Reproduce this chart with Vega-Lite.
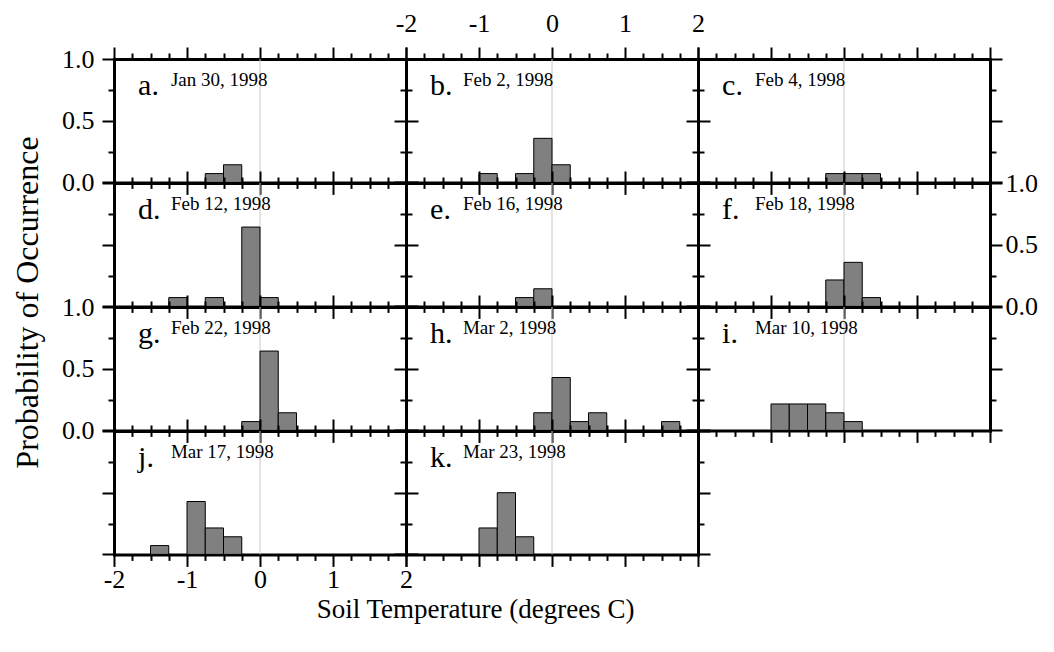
{
  "$schema": "https://vega.github.io/schema/vega-lite/v6.json",
  "padding": {"left": 10, "top": 10, "right": 5, "bottom": 5},
  "background": "white",
  "config": {
    "view": {"stroke": null},
    "style": {
      "guide-label": {"font": "Liberation Serif", "fontSize": 26, "fill": "black"},
      "guide-title": {"font": "Liberation Serif", "fontSize": 28, "fontWeight": "normal", "fill": "black"}
    },
    "axis": {
      "grid": false,
      "domainColor": "black",
      "domainWidth": 3,
      "domainCap": "square",
      "tickColor": "black",
      "tickWidth": 2,
      "labelFont": "Liberation Serif",
      "labelFontSize": 26,
      "labelColor": "black",
      "titleFont": "Liberation Serif",
      "titleFontSize": 28,
      "titleFontWeight": "normal",
      "titleColor": "black",
      "labelOverlap": false,
      "labelFlush": false,
      "labelBound": false
    }
  },
  "datasets": {
    "bins": [
      {"panel": "a", "lo": -0.75, "hi": -0.5, "p": 0.0714},
      {"panel": "a", "lo": -0.5, "hi": -0.25, "p": 0.1429},
      {"panel": "b", "lo": -1.0, "hi": -0.75, "p": 0.0714},
      {"panel": "b", "lo": -0.5, "hi": -0.25, "p": 0.0714},
      {"panel": "b", "lo": -0.25, "hi": 0.0, "p": 0.3571},
      {"panel": "b", "lo": 0.0, "hi": 0.25, "p": 0.1429},
      {"panel": "c", "lo": -0.25, "hi": 0.0, "p": 0.0714},
      {"panel": "c", "lo": 0.0, "hi": 0.25, "p": 0.0714},
      {"panel": "c", "lo": 0.25, "hi": 0.5, "p": 0.0714},
      {"panel": "d", "lo": -1.25, "hi": -1.0, "p": 0.0714},
      {"panel": "d", "lo": -0.75, "hi": -0.5, "p": 0.0714},
      {"panel": "d", "lo": -0.25, "hi": 0.0, "p": 0.6429},
      {"panel": "d", "lo": 0.0, "hi": 0.25, "p": 0.0714},
      {"panel": "e", "lo": -0.5, "hi": -0.25, "p": 0.0714},
      {"panel": "e", "lo": -0.25, "hi": 0.0, "p": 0.1429},
      {"panel": "f", "lo": -0.25, "hi": 0.0, "p": 0.2143},
      {"panel": "f", "lo": 0.0, "hi": 0.25, "p": 0.3571},
      {"panel": "f", "lo": 0.25, "hi": 0.5, "p": 0.0714},
      {"panel": "g", "lo": -0.25, "hi": 0.0, "p": 0.0714},
      {"panel": "g", "lo": 0.0, "hi": 0.25, "p": 0.6429},
      {"panel": "g", "lo": 0.25, "hi": 0.5, "p": 0.1429},
      {"panel": "h", "lo": -0.25, "hi": 0.0, "p": 0.1429},
      {"panel": "h", "lo": 0.0, "hi": 0.25, "p": 0.4286},
      {"panel": "h", "lo": 0.25, "hi": 0.5, "p": 0.0714},
      {"panel": "h", "lo": 0.5, "hi": 0.75, "p": 0.1429},
      {"panel": "h", "lo": 1.5, "hi": 1.75, "p": 0.0714},
      {"panel": "i", "lo": -1.0, "hi": -0.75, "p": 0.2143},
      {"panel": "i", "lo": -0.75, "hi": -0.5, "p": 0.2143},
      {"panel": "i", "lo": -0.5, "hi": -0.25, "p": 0.2143},
      {"panel": "i", "lo": -0.25, "hi": 0.0, "p": 0.1429},
      {"panel": "i", "lo": 0.0, "hi": 0.25, "p": 0.0714},
      {"panel": "j", "lo": -1.5, "hi": -1.25, "p": 0.0714},
      {"panel": "j", "lo": -1.0, "hi": -0.75, "p": 0.4286},
      {"panel": "j", "lo": -0.75, "hi": -0.5, "p": 0.2143},
      {"panel": "j", "lo": -0.5, "hi": -0.25, "p": 0.1429},
      {"panel": "k", "lo": -1.0, "hi": -0.75, "p": 0.2143},
      {"panel": "k", "lo": -0.75, "hi": -0.5, "p": 0.5},
      {"panel": "k", "lo": -0.5, "hi": -0.25, "p": 0.1429}
    ],
    "labels": [
      {"panel": "a", "letter": "a.", "date": "Jan 30, 1998"},
      {"panel": "b", "letter": "b.", "date": "Feb 2, 1998"},
      {"panel": "c", "letter": "c.", "date": "Feb 4, 1998"},
      {"panel": "d", "letter": "d.", "date": "Feb 12, 1998"},
      {"panel": "e", "letter": "e.", "date": "Feb 16, 1998"},
      {"panel": "f", "letter": "f.", "date": "Feb 18, 1998"},
      {"panel": "g", "letter": "g.", "date": "Feb 22, 1998"},
      {"panel": "h", "letter": "h.", "date": "Mar 2, 1998"},
      {"panel": "i", "letter": "i.", "date": "Mar 10, 1998"},
      {"panel": "j", "letter": "j.", "date": "Mar 17, 1998"},
      {"panel": "k", "letter": "k.", "date": "Mar 23, 1998"}
    ]
  },
  "columns": 3,
  "spacing": 0,
  "bounds": "flush",
  "align": "all",
  "concat": [
    {
      "width": 292, "height": 123.4,
      "layer": [
        {"data": {"name": "labels"}, "transform": [{"filter": "datum.panel === 'a'"}], "mark": {"type": "rule", "color": "#c8c8c8", "strokeWidth": 1},
         "encoding": {"x": {"datum": 0, "type": "quantitative", "scale": {"domain": [-2, 2]}, "axis": {"orient": "top", "values": [-2,-1.75,-1.5,-1.25,-1,-0.75,-0.5,-0.25,0,0.25,0.5,0.75,1,1.25,1.5,1.75,2], "tickSize": {"condition": {"test": "datum.value % 1 === 0", "value": 12}, "value": 6}, "labels": false, "title": null}}}},
        {"data": {"name": "bins"}, "transform": [{"filter": "datum.panel === 'a'"}], "mark": {"type": "bar", "fill": "#808080", "stroke": "black", "strokeWidth": 1},
         "encoding": {"x": {"field": "lo", "type": "quantitative", "scale": {"domain": [-2, 2]}, "axis": {"orient": "bottom", "values": [-2,-1.75,-1.5,-1.25,-1,-0.75,-0.5,-0.25,0,0.25,0.5,0.75,1,1.25,1.5,1.75,2], "tickSize": {"condition": {"test": "datum.value % 1 === 0", "value": 12}, "value": 6}, "labels": false, "title": null}},
                      "x2": {"field": "hi"},
                      "y": {"field": "p", "type": "quantitative", "scale": {"domain": [0, 1]}, "axis": {"orient": "left", "values": [0,0.25,0.5,0.75,1], "tickSize": {"condition": {"test": "datum.value % 0.5 === 0", "value": 12}, "value": 6}, "labels": true, "labelFont": "Liberation Serif", "labelFontSize": 26, "labelColor": "black", "labelExpr": "datum.value % 0.5 === 0 ? format(datum.value, '.1f') : ''", "labelPadding": 8, "title": null}},
                      "y2": {"datum": 0}}},
        {"data": {"name": "labels"}, "transform": [{"filter": "datum.panel === 'a'"}], "mark": {"type": "text", "font": "Liberation Serif", "fontSize": 30, "align": "left", "baseline": "alphabetic", "color": "black"},
         "encoding": {"x": {"datum": -1.67, "type": "quantitative", "axis": null}, "y": {"datum": 0.71, "type": "quantitative", "axis": {"orient": "right", "values": [0,0.25,0.5,0.75,1], "tickSize": {"condition": {"test": "datum.value % 0.5 === 0", "value": 12}, "value": 6}, "labels": false, "title": null}}, "text": {"field": "letter"}}},
        {"data": {"name": "labels"}, "transform": [{"filter": "datum.panel === 'a'"}], "mark": {"type": "text", "font": "Liberation Serif", "fontSize": 19, "align": "left", "baseline": "alphabetic", "color": "black"},
         "encoding": {"x": {"datum": -1.22, "type": "quantitative", "axis": null}, "y": {"datum": 0.785, "type": "quantitative", "axis": null}, "text": {"field": "date"}}}
      ],
      "resolve": {"axis": {"x": "independent", "y": "independent"}}
    },
    {
      "width": 292, "height": 123.4,
      "layer": [
        {"data": {"name": "labels"}, "transform": [{"filter": "datum.panel === 'b'"}], "mark": {"type": "rule", "color": "#c8c8c8", "strokeWidth": 1},
         "encoding": {"x": {"datum": 0, "type": "quantitative", "scale": {"domain": [-2, 2]}, "axis": {"orient": "top", "values": [-2,-1.75,-1.5,-1.25,-1,-0.75,-0.5,-0.25,0,0.25,0.5,0.75,1,1.25,1.5,1.75,2], "tickSize": {"condition": {"test": "datum.value % 1 === 0", "value": 12}, "value": 6}, "labels": true, "labelFont": "Liberation Serif", "labelFontSize": 26, "labelColor": "black", "labelExpr": "datum.value % 1 === 0 ? '' + datum.value : ''", "labelPadding": 11, "title": null}}}},
        {"data": {"name": "bins"}, "transform": [{"filter": "datum.panel === 'b'"}], "mark": {"type": "bar", "fill": "#808080", "stroke": "black", "strokeWidth": 1},
         "encoding": {"x": {"field": "lo", "type": "quantitative", "scale": {"domain": [-2, 2]}, "axis": {"orient": "bottom", "values": [-2,-1.75,-1.5,-1.25,-1,-0.75,-0.5,-0.25,0,0.25,0.5,0.75,1,1.25,1.5,1.75,2], "tickSize": {"condition": {"test": "datum.value % 1 === 0", "value": 12}, "value": 6}, "labels": false, "title": null}},
                      "x2": {"field": "hi"},
                      "y": {"field": "p", "type": "quantitative", "scale": {"domain": [0, 1]}, "axis": {"orient": "left", "values": [0,0.25,0.5,0.75,1], "tickSize": {"condition": {"test": "datum.value % 0.5 === 0", "value": 12}, "value": 6}, "labels": false, "title": null}},
                      "y2": {"datum": 0}}},
        {"data": {"name": "labels"}, "transform": [{"filter": "datum.panel === 'b'"}], "mark": {"type": "text", "font": "Liberation Serif", "fontSize": 30, "align": "left", "baseline": "alphabetic", "color": "black"},
         "encoding": {"x": {"datum": -1.67, "type": "quantitative", "axis": null}, "y": {"datum": 0.71, "type": "quantitative", "axis": {"orient": "right", "values": [0,0.25,0.5,0.75,1], "tickSize": {"condition": {"test": "datum.value % 0.5 === 0", "value": 12}, "value": 6}, "labels": false, "title": null}}, "text": {"field": "letter"}}},
        {"data": {"name": "labels"}, "transform": [{"filter": "datum.panel === 'b'"}], "mark": {"type": "text", "font": "Liberation Serif", "fontSize": 19, "align": "left", "baseline": "alphabetic", "color": "black"},
         "encoding": {"x": {"datum": -1.22, "type": "quantitative", "axis": null}, "y": {"datum": 0.785, "type": "quantitative", "axis": null}, "text": {"field": "date"}}}
      ],
      "resolve": {"axis": {"x": "independent", "y": "independent"}}
    },
    {
      "width": 292, "height": 123.4,
      "layer": [
        {"data": {"name": "labels"}, "transform": [{"filter": "datum.panel === 'c'"}], "mark": {"type": "rule", "color": "#c8c8c8", "strokeWidth": 1},
         "encoding": {"x": {"datum": 0, "type": "quantitative", "scale": {"domain": [-2, 2]}, "axis": {"orient": "top", "values": [-2,-1.75,-1.5,-1.25,-1,-0.75,-0.5,-0.25,0,0.25,0.5,0.75,1,1.25,1.5,1.75,2], "tickSize": {"condition": {"test": "datum.value % 1 === 0", "value": 12}, "value": 6}, "labels": false, "title": null}}}},
        {"data": {"name": "bins"}, "transform": [{"filter": "datum.panel === 'c'"}], "mark": {"type": "bar", "fill": "#808080", "stroke": "black", "strokeWidth": 1},
         "encoding": {"x": {"field": "lo", "type": "quantitative", "scale": {"domain": [-2, 2]}, "axis": {"orient": "bottom", "values": [-2,-1.75,-1.5,-1.25,-1,-0.75,-0.5,-0.25,0,0.25,0.5,0.75,1,1.25,1.5,1.75,2], "tickSize": {"condition": {"test": "datum.value % 1 === 0", "value": 12}, "value": 6}, "labels": false, "title": null}},
                      "x2": {"field": "hi"},
                      "y": {"field": "p", "type": "quantitative", "scale": {"domain": [0, 1]}, "axis": {"orient": "left", "values": [0,0.25,0.5,0.75,1], "tickSize": {"condition": {"test": "datum.value % 0.5 === 0", "value": 12}, "value": 6}, "labels": false, "title": null}},
                      "y2": {"datum": 0}}},
        {"data": {"name": "labels"}, "transform": [{"filter": "datum.panel === 'c'"}], "mark": {"type": "text", "font": "Liberation Serif", "fontSize": 30, "align": "left", "baseline": "alphabetic", "color": "black"},
         "encoding": {"x": {"datum": -1.67, "type": "quantitative", "axis": null}, "y": {"datum": 0.71, "type": "quantitative", "axis": {"orient": "right", "values": [0,0.25,0.5,0.75,1], "tickSize": {"condition": {"test": "datum.value % 0.5 === 0", "value": 12}, "value": 6}, "labels": false, "title": null}}, "text": {"field": "letter"}}},
        {"data": {"name": "labels"}, "transform": [{"filter": "datum.panel === 'c'"}], "mark": {"type": "text", "font": "Liberation Serif", "fontSize": 19, "align": "left", "baseline": "alphabetic", "color": "black"},
         "encoding": {"x": {"datum": -1.22, "type": "quantitative", "axis": null}, "y": {"datum": 0.785, "type": "quantitative", "axis": null}, "text": {"field": "date"}}}
      ],
      "resolve": {"axis": {"x": "independent", "y": "independent"}}
    },
    {
      "width": 292, "height": 123.4,
      "layer": [
        {"data": {"name": "labels"}, "transform": [{"filter": "datum.panel === 'd'"}], "mark": {"type": "rule", "color": "#c8c8c8", "strokeWidth": 1},
         "encoding": {"x": {"datum": 0, "type": "quantitative", "scale": {"domain": [-2, 2]}, "axis": {"orient": "top", "values": [-2,-1.75,-1.5,-1.25,-1,-0.75,-0.5,-0.25,0,0.25,0.5,0.75,1,1.25,1.5,1.75,2], "tickSize": {"condition": {"test": "datum.value % 1 === 0", "value": 12}, "value": 6}, "labels": false, "title": null}}}},
        {"data": {"name": "bins"}, "transform": [{"filter": "datum.panel === 'd'"}], "mark": {"type": "bar", "fill": "#808080", "stroke": "black", "strokeWidth": 1},
         "encoding": {"x": {"field": "lo", "type": "quantitative", "scale": {"domain": [-2, 2]}, "axis": {"orient": "bottom", "values": [-2,-1.75,-1.5,-1.25,-1,-0.75,-0.5,-0.25,0,0.25,0.5,0.75,1,1.25,1.5,1.75,2], "tickSize": {"condition": {"test": "datum.value % 1 === 0", "value": 12}, "value": 6}, "labels": false, "title": null}},
                      "x2": {"field": "hi"},
                      "y": {"field": "p", "type": "quantitative", "scale": {"domain": [0, 1]}, "axis": {"orient": "left", "values": [0,0.25,0.5,0.75,1], "tickSize": {"condition": {"test": "datum.value % 0.5 === 0", "value": 12}, "value": 6}, "labels": false, "title": null}},
                      "y2": {"datum": 0}}},
        {"data": {"name": "labels"}, "transform": [{"filter": "datum.panel === 'd'"}], "mark": {"type": "text", "font": "Liberation Serif", "fontSize": 30, "align": "left", "baseline": "alphabetic", "color": "black"},
         "encoding": {"x": {"datum": -1.67, "type": "quantitative", "axis": null}, "y": {"datum": 0.71, "type": "quantitative", "axis": {"orient": "right", "values": [0,0.25,0.5,0.75,1], "tickSize": {"condition": {"test": "datum.value % 0.5 === 0", "value": 12}, "value": 6}, "labels": false, "title": null}}, "text": {"field": "letter"}}},
        {"data": {"name": "labels"}, "transform": [{"filter": "datum.panel === 'd'"}], "mark": {"type": "text", "font": "Liberation Serif", "fontSize": 19, "align": "left", "baseline": "alphabetic", "color": "black"},
         "encoding": {"x": {"datum": -1.22, "type": "quantitative", "axis": null}, "y": {"datum": 0.785, "type": "quantitative", "axis": null}, "text": {"field": "date"}}}
      ],
      "resolve": {"axis": {"x": "independent", "y": "independent"}}
    },
    {
      "width": 292, "height": 123.4,
      "layer": [
        {"data": {"name": "labels"}, "transform": [{"filter": "datum.panel === 'e'"}], "mark": {"type": "rule", "color": "#c8c8c8", "strokeWidth": 1},
         "encoding": {"x": {"datum": 0, "type": "quantitative", "scale": {"domain": [-2, 2]}, "axis": {"orient": "top", "values": [-2,-1.75,-1.5,-1.25,-1,-0.75,-0.5,-0.25,0,0.25,0.5,0.75,1,1.25,1.5,1.75,2], "tickSize": {"condition": {"test": "datum.value % 1 === 0", "value": 12}, "value": 6}, "labels": false, "title": null}}}},
        {"data": {"name": "bins"}, "transform": [{"filter": "datum.panel === 'e'"}], "mark": {"type": "bar", "fill": "#808080", "stroke": "black", "strokeWidth": 1},
         "encoding": {"x": {"field": "lo", "type": "quantitative", "scale": {"domain": [-2, 2]}, "axis": {"orient": "bottom", "values": [-2,-1.75,-1.5,-1.25,-1,-0.75,-0.5,-0.25,0,0.25,0.5,0.75,1,1.25,1.5,1.75,2], "tickSize": {"condition": {"test": "datum.value % 1 === 0", "value": 12}, "value": 6}, "labels": false, "title": null}},
                      "x2": {"field": "hi"},
                      "y": {"field": "p", "type": "quantitative", "scale": {"domain": [0, 1]}, "axis": {"orient": "left", "values": [0,0.25,0.5,0.75,1], "tickSize": {"condition": {"test": "datum.value % 0.5 === 0", "value": 12}, "value": 6}, "labels": false, "title": null}},
                      "y2": {"datum": 0}}},
        {"data": {"name": "labels"}, "transform": [{"filter": "datum.panel === 'e'"}], "mark": {"type": "text", "font": "Liberation Serif", "fontSize": 30, "align": "left", "baseline": "alphabetic", "color": "black"},
         "encoding": {"x": {"datum": -1.67, "type": "quantitative", "axis": null}, "y": {"datum": 0.71, "type": "quantitative", "axis": {"orient": "right", "values": [0,0.25,0.5,0.75,1], "tickSize": {"condition": {"test": "datum.value % 0.5 === 0", "value": 12}, "value": 6}, "labels": false, "title": null}}, "text": {"field": "letter"}}},
        {"data": {"name": "labels"}, "transform": [{"filter": "datum.panel === 'e'"}], "mark": {"type": "text", "font": "Liberation Serif", "fontSize": 19, "align": "left", "baseline": "alphabetic", "color": "black"},
         "encoding": {"x": {"datum": -1.22, "type": "quantitative", "axis": null}, "y": {"datum": 0.785, "type": "quantitative", "axis": null}, "text": {"field": "date"}}}
      ],
      "resolve": {"axis": {"x": "independent", "y": "independent"}}
    },
    {
      "width": 292, "height": 123.4,
      "layer": [
        {"data": {"name": "labels"}, "transform": [{"filter": "datum.panel === 'f'"}], "mark": {"type": "rule", "color": "#c8c8c8", "strokeWidth": 1},
         "encoding": {"x": {"datum": 0, "type": "quantitative", "scale": {"domain": [-2, 2]}, "axis": {"orient": "top", "values": [-2,-1.75,-1.5,-1.25,-1,-0.75,-0.5,-0.25,0,0.25,0.5,0.75,1,1.25,1.5,1.75,2], "tickSize": {"condition": {"test": "datum.value % 1 === 0", "value": 12}, "value": 6}, "labels": false, "title": null}}}},
        {"data": {"name": "bins"}, "transform": [{"filter": "datum.panel === 'f'"}], "mark": {"type": "bar", "fill": "#808080", "stroke": "black", "strokeWidth": 1},
         "encoding": {"x": {"field": "lo", "type": "quantitative", "scale": {"domain": [-2, 2]}, "axis": {"orient": "bottom", "values": [-2,-1.75,-1.5,-1.25,-1,-0.75,-0.5,-0.25,0,0.25,0.5,0.75,1,1.25,1.5,1.75,2], "tickSize": {"condition": {"test": "datum.value % 1 === 0", "value": 12}, "value": 6}, "labels": false, "title": null}},
                      "x2": {"field": "hi"},
                      "y": {"field": "p", "type": "quantitative", "scale": {"domain": [0, 1]}, "axis": {"orient": "left", "values": [0,0.25,0.5,0.75,1], "tickSize": {"condition": {"test": "datum.value % 0.5 === 0", "value": 12}, "value": 6}, "labels": false, "title": null}},
                      "y2": {"datum": 0}}},
        {"data": {"name": "labels"}, "transform": [{"filter": "datum.panel === 'f'"}], "mark": {"type": "text", "font": "Liberation Serif", "fontSize": 30, "align": "left", "baseline": "alphabetic", "color": "black"},
         "encoding": {"x": {"datum": -1.67, "type": "quantitative", "axis": null}, "y": {"datum": 0.71, "type": "quantitative", "axis": {"orient": "right", "values": [0,0.25,0.5,0.75,1], "tickSize": {"condition": {"test": "datum.value % 0.5 === 0", "value": 12}, "value": 6}, "labels": true, "labelFont": "Liberation Serif", "labelFontSize": 26, "labelColor": "black", "labelExpr": "datum.value % 0.5 === 0 ? format(datum.value, '.1f') : ''", "labelPadding": 3, "title": null}}, "text": {"field": "letter"}}},
        {"data": {"name": "labels"}, "transform": [{"filter": "datum.panel === 'f'"}], "mark": {"type": "text", "font": "Liberation Serif", "fontSize": 19, "align": "left", "baseline": "alphabetic", "color": "black"},
         "encoding": {"x": {"datum": -1.22, "type": "quantitative", "axis": null}, "y": {"datum": 0.785, "type": "quantitative", "axis": null}, "text": {"field": "date"}}}
      ],
      "resolve": {"axis": {"x": "independent", "y": "independent"}}
    },
    {
      "width": 292, "height": 123.4,
      "layer": [
        {"data": {"name": "labels"}, "transform": [{"filter": "datum.panel === 'g'"}], "mark": {"type": "rule", "color": "#c8c8c8", "strokeWidth": 1},
         "encoding": {"x": {"datum": 0, "type": "quantitative", "scale": {"domain": [-2, 2]}, "axis": {"orient": "top", "values": [-2,-1.75,-1.5,-1.25,-1,-0.75,-0.5,-0.25,0,0.25,0.5,0.75,1,1.25,1.5,1.75,2], "tickSize": {"condition": {"test": "datum.value % 1 === 0", "value": 12}, "value": 6}, "labels": false, "title": null}}}},
        {"data": {"name": "bins"}, "transform": [{"filter": "datum.panel === 'g'"}], "mark": {"type": "bar", "fill": "#808080", "stroke": "black", "strokeWidth": 1},
         "encoding": {"x": {"field": "lo", "type": "quantitative", "scale": {"domain": [-2, 2]}, "axis": {"orient": "bottom", "values": [-2,-1.75,-1.5,-1.25,-1,-0.75,-0.5,-0.25,0,0.25,0.5,0.75,1,1.25,1.5,1.75,2], "tickSize": {"condition": {"test": "datum.value % 1 === 0", "value": 12}, "value": 6}, "labels": false, "title": null}},
                      "x2": {"field": "hi"},
                      "y": {"field": "p", "type": "quantitative", "scale": {"domain": [0, 1]}, "axis": {"orient": "left", "values": [0,0.25,0.5,0.75,1], "tickSize": {"condition": {"test": "datum.value % 0.5 === 0", "value": 12}, "value": 6}, "labels": true, "labelFont": "Liberation Serif", "labelFontSize": 26, "labelColor": "black", "labelExpr": "datum.value % 0.5 === 0 ? format(datum.value, '.1f') : ''", "labelPadding": 8, "title": "Probability of Occurrence", "titleFont": "Liberation Serif", "titleFontSize": 32, "titleFontWeight": "normal", "titleColor": "black", "titleAngle": -90, "titleX": -87, "titleY": -5, "titleAlign": "center", "titleBaseline": "middle"}},
                      "y2": {"datum": 0}}},
        {"data": {"name": "labels"}, "transform": [{"filter": "datum.panel === 'g'"}], "mark": {"type": "text", "font": "Liberation Serif", "fontSize": 30, "align": "left", "baseline": "alphabetic", "color": "black"},
         "encoding": {"x": {"datum": -1.67, "type": "quantitative", "axis": null}, "y": {"datum": 0.71, "type": "quantitative", "axis": {"orient": "right", "values": [0,0.25,0.5,0.75,1], "tickSize": {"condition": {"test": "datum.value % 0.5 === 0", "value": 12}, "value": 6}, "labels": false, "title": null}}, "text": {"field": "letter"}}},
        {"data": {"name": "labels"}, "transform": [{"filter": "datum.panel === 'g'"}], "mark": {"type": "text", "font": "Liberation Serif", "fontSize": 19, "align": "left", "baseline": "alphabetic", "color": "black"},
         "encoding": {"x": {"datum": -1.22, "type": "quantitative", "axis": null}, "y": {"datum": 0.785, "type": "quantitative", "axis": null}, "text": {"field": "date"}}}
      ],
      "resolve": {"axis": {"x": "independent", "y": "independent"}}
    },
    {
      "width": 292, "height": 123.4,
      "layer": [
        {"data": {"name": "labels"}, "transform": [{"filter": "datum.panel === 'h'"}], "mark": {"type": "rule", "color": "#c8c8c8", "strokeWidth": 1},
         "encoding": {"x": {"datum": 0, "type": "quantitative", "scale": {"domain": [-2, 2]}, "axis": {"orient": "top", "values": [-2,-1.75,-1.5,-1.25,-1,-0.75,-0.5,-0.25,0,0.25,0.5,0.75,1,1.25,1.5,1.75,2], "tickSize": {"condition": {"test": "datum.value % 1 === 0", "value": 12}, "value": 6}, "labels": false, "title": null}}}},
        {"data": {"name": "bins"}, "transform": [{"filter": "datum.panel === 'h'"}], "mark": {"type": "bar", "fill": "#808080", "stroke": "black", "strokeWidth": 1},
         "encoding": {"x": {"field": "lo", "type": "quantitative", "scale": {"domain": [-2, 2]}, "axis": {"orient": "bottom", "values": [-2,-1.75,-1.5,-1.25,-1,-0.75,-0.5,-0.25,0,0.25,0.5,0.75,1,1.25,1.5,1.75,2], "tickSize": {"condition": {"test": "datum.value % 1 === 0", "value": 12}, "value": 6}, "labels": false, "title": null}},
                      "x2": {"field": "hi"},
                      "y": {"field": "p", "type": "quantitative", "scale": {"domain": [0, 1]}, "axis": {"orient": "left", "values": [0,0.25,0.5,0.75,1], "tickSize": {"condition": {"test": "datum.value % 0.5 === 0", "value": 12}, "value": 6}, "labels": false, "title": null}},
                      "y2": {"datum": 0}}},
        {"data": {"name": "labels"}, "transform": [{"filter": "datum.panel === 'h'"}], "mark": {"type": "text", "font": "Liberation Serif", "fontSize": 30, "align": "left", "baseline": "alphabetic", "color": "black"},
         "encoding": {"x": {"datum": -1.67, "type": "quantitative", "axis": null}, "y": {"datum": 0.71, "type": "quantitative", "axis": {"orient": "right", "values": [0,0.25,0.5,0.75,1], "tickSize": {"condition": {"test": "datum.value % 0.5 === 0", "value": 12}, "value": 6}, "labels": false, "title": null}}, "text": {"field": "letter"}}},
        {"data": {"name": "labels"}, "transform": [{"filter": "datum.panel === 'h'"}], "mark": {"type": "text", "font": "Liberation Serif", "fontSize": 19, "align": "left", "baseline": "alphabetic", "color": "black"},
         "encoding": {"x": {"datum": -1.22, "type": "quantitative", "axis": null}, "y": {"datum": 0.785, "type": "quantitative", "axis": null}, "text": {"field": "date"}}}
      ],
      "resolve": {"axis": {"x": "independent", "y": "independent"}}
    },
    {
      "width": 292, "height": 123.4,
      "layer": [
        {"data": {"name": "labels"}, "transform": [{"filter": "datum.panel === 'i'"}], "mark": {"type": "rule", "color": "#c8c8c8", "strokeWidth": 1},
         "encoding": {"x": {"datum": 0, "type": "quantitative", "scale": {"domain": [-2, 2]}, "axis": {"orient": "top", "values": [-2,-1.75,-1.5,-1.25,-1,-0.75,-0.5,-0.25,0,0.25,0.5,0.75,1,1.25,1.5,1.75,2], "tickSize": {"condition": {"test": "datum.value % 1 === 0", "value": 12}, "value": 6}, "labels": false, "title": null}}}},
        {"data": {"name": "bins"}, "transform": [{"filter": "datum.panel === 'i'"}], "mark": {"type": "bar", "fill": "#808080", "stroke": "black", "strokeWidth": 1},
         "encoding": {"x": {"field": "lo", "type": "quantitative", "scale": {"domain": [-2, 2]}, "axis": {"orient": "bottom", "values": [-2,-1.75,-1.5,-1.25,-1,-0.75,-0.5,-0.25,0,0.25,0.5,0.75,1,1.25,1.5,1.75,2], "tickSize": {"condition": {"test": "datum.value % 1 === 0", "value": 12}, "value": 6}, "labels": false, "title": null}},
                      "x2": {"field": "hi"},
                      "y": {"field": "p", "type": "quantitative", "scale": {"domain": [0, 1]}, "axis": {"orient": "left", "values": [0,0.25,0.5,0.75,1], "tickSize": {"condition": {"test": "datum.value % 0.5 === 0", "value": 12}, "value": 6}, "labels": false, "title": null}},
                      "y2": {"datum": 0}}},
        {"data": {"name": "labels"}, "transform": [{"filter": "datum.panel === 'i'"}], "mark": {"type": "text", "font": "Liberation Serif", "fontSize": 30, "align": "left", "baseline": "alphabetic", "color": "black"},
         "encoding": {"x": {"datum": -1.67, "type": "quantitative", "axis": null}, "y": {"datum": 0.71, "type": "quantitative", "axis": {"orient": "right", "values": [0,0.25,0.5,0.75,1], "tickSize": {"condition": {"test": "datum.value % 0.5 === 0", "value": 12}, "value": 6}, "labels": false, "title": null}}, "text": {"field": "letter"}}},
        {"data": {"name": "labels"}, "transform": [{"filter": "datum.panel === 'i'"}], "mark": {"type": "text", "font": "Liberation Serif", "fontSize": 19, "align": "left", "baseline": "alphabetic", "color": "black"},
         "encoding": {"x": {"datum": -1.22, "type": "quantitative", "axis": null}, "y": {"datum": 0.785, "type": "quantitative", "axis": null}, "text": {"field": "date"}}}
      ],
      "resolve": {"axis": {"x": "independent", "y": "independent"}}
    },
    {
      "width": 292, "height": 123.4,
      "layer": [
        {"data": {"name": "labels"}, "transform": [{"filter": "datum.panel === 'j'"}], "mark": {"type": "rule", "color": "#c8c8c8", "strokeWidth": 1},
         "encoding": {"x": {"datum": 0, "type": "quantitative", "scale": {"domain": [-2, 2]}, "axis": {"orient": "top", "values": [-2,-1.75,-1.5,-1.25,-1,-0.75,-0.5,-0.25,0,0.25,0.5,0.75,1,1.25,1.5,1.75,2], "tickSize": {"condition": {"test": "datum.value % 1 === 0", "value": 12}, "value": 6}, "labels": false, "title": null}}}},
        {"data": {"name": "bins"}, "transform": [{"filter": "datum.panel === 'j'"}], "mark": {"type": "bar", "fill": "#808080", "stroke": "black", "strokeWidth": 1},
         "encoding": {"x": {"field": "lo", "type": "quantitative", "scale": {"domain": [-2, 2]}, "axis": {"orient": "bottom", "values": [-2,-1.75,-1.5,-1.25,-1,-0.75,-0.5,-0.25,0,0.25,0.5,0.75,1,1.25,1.5,1.75,2], "tickSize": {"condition": {"test": "datum.value % 1 === 0", "value": 12}, "value": 6}, "labels": true, "labelFont": "Liberation Serif", "labelFontSize": 26, "labelColor": "black", "labelExpr": "datum.value % 1 === 0 ? '' + datum.value : ''", "labelPadding": 0, "title": "Soil Temperature (degrees C)", "titleFont": "Liberation Serif", "titleFontSize": 27, "titleFontWeight": "normal", "titleColor": "black", "titleX": 361, "titleY": 55, "titleAlign": "center", "titleBaseline": "middle"}},
                      "x2": {"field": "hi"},
                      "y": {"field": "p", "type": "quantitative", "scale": {"domain": [0, 1]}, "axis": {"orient": "left", "values": [0,0.25,0.5,0.75,1], "tickSize": {"condition": {"test": "datum.value % 0.5 === 0", "value": 12}, "value": 6}, "labels": false, "title": null}},
                      "y2": {"datum": 0}}},
        {"data": {"name": "labels"}, "transform": [{"filter": "datum.panel === 'j'"}], "mark": {"type": "text", "font": "Liberation Serif", "fontSize": 30, "align": "left", "baseline": "alphabetic", "color": "black"},
         "encoding": {"x": {"datum": -1.67, "type": "quantitative", "axis": null}, "y": {"datum": 0.71, "type": "quantitative", "axis": {"orient": "right", "values": [0,0.25,0.5,0.75,1], "tickSize": {"condition": {"test": "datum.value % 0.5 === 0", "value": 12}, "value": 6}, "labels": false, "title": null}}, "text": {"field": "letter"}}},
        {"data": {"name": "labels"}, "transform": [{"filter": "datum.panel === 'j'"}], "mark": {"type": "text", "font": "Liberation Serif", "fontSize": 19, "align": "left", "baseline": "alphabetic", "color": "black"},
         "encoding": {"x": {"datum": -1.22, "type": "quantitative", "axis": null}, "y": {"datum": 0.785, "type": "quantitative", "axis": null}, "text": {"field": "date"}}}
      ],
      "resolve": {"axis": {"x": "independent", "y": "independent"}}
    },
    {
      "width": 292, "height": 123.4,
      "layer": [
        {"data": {"name": "labels"}, "transform": [{"filter": "datum.panel === 'k'"}], "mark": {"type": "rule", "color": "#c8c8c8", "strokeWidth": 1},
         "encoding": {"x": {"datum": 0, "type": "quantitative", "scale": {"domain": [-2, 2]}, "axis": {"orient": "top", "values": [-2,-1.75,-1.5,-1.25,-1,-0.75,-0.5,-0.25,0,0.25,0.5,0.75,1,1.25,1.5,1.75,2], "tickSize": {"condition": {"test": "datum.value % 1 === 0", "value": 12}, "value": 6}, "labels": false, "title": null}}}},
        {"data": {"name": "bins"}, "transform": [{"filter": "datum.panel === 'k'"}], "mark": {"type": "bar", "fill": "#808080", "stroke": "black", "strokeWidth": 1},
         "encoding": {"x": {"field": "lo", "type": "quantitative", "scale": {"domain": [-2, 2]}, "axis": {"orient": "bottom", "values": [-2,-1.75,-1.5,-1.25,-1,-0.75,-0.5,-0.25,0,0.25,0.5,0.75,1,1.25,1.5,1.75,2], "tickSize": {"condition": {"test": "datum.value % 1 === 0", "value": 12}, "value": 6}, "labels": false, "title": null}},
                      "x2": {"field": "hi"},
                      "y": {"field": "p", "type": "quantitative", "scale": {"domain": [0, 1]}, "axis": {"orient": "left", "values": [0,0.25,0.5,0.75,1], "tickSize": {"condition": {"test": "datum.value % 0.5 === 0", "value": 12}, "value": 6}, "labels": false, "title": null}},
                      "y2": {"datum": 0}}},
        {"data": {"name": "labels"}, "transform": [{"filter": "datum.panel === 'k'"}], "mark": {"type": "text", "font": "Liberation Serif", "fontSize": 30, "align": "left", "baseline": "alphabetic", "color": "black"},
         "encoding": {"x": {"datum": -1.67, "type": "quantitative", "axis": null}, "y": {"datum": 0.71, "type": "quantitative", "axis": {"orient": "right", "values": [0,0.25,0.5,0.75,1], "tickSize": {"condition": {"test": "datum.value % 0.5 === 0", "value": 12}, "value": 6}, "labels": false, "title": null}}, "text": {"field": "letter"}}},
        {"data": {"name": "labels"}, "transform": [{"filter": "datum.panel === 'k'"}], "mark": {"type": "text", "font": "Liberation Serif", "fontSize": 19, "align": "left", "baseline": "alphabetic", "color": "black"},
         "encoding": {"x": {"datum": -1.22, "type": "quantitative", "axis": null}, "y": {"datum": 0.785, "type": "quantitative", "axis": null}, "text": {"field": "date"}}}
      ],
      "resolve": {"axis": {"x": "independent", "y": "independent"}}
    }
  ]
}
